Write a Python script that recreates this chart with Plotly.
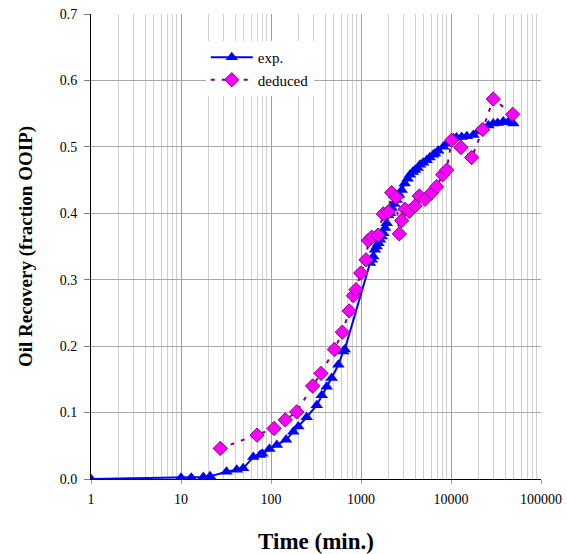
import plotly.graph_objects as go

# ---- data ----
exp_time = [1, 10, 13, 17.7, 21, 32, 41.6, 49, 63.6, 75.5, 80, 96, 116, 147, 177, 201, 249,
            322, 366, 416, 472, 560, 635, 660,
            1259, 1320, 1371, 1430, 1494, 1560, 1625, 1700, 1768, 1850, 1932, 2003, 2100,
            2193, 2350, 2494, 2650, 2834, 3060, 3300, 3500, 3750, 3981, 4250, 4525, 4900,
            5370, 5800, 6340, 6640, 7200, 8220, 9000, 10610, 11500, 13140, 15000, 17700,
            20000, 22870, 26000, 29500, 33000, 38100, 43000, 49200]
exp_rec = [0.0, 0.002, 0.002, 0.003, 0.004, 0.011, 0.014, 0.016, 0.033, 0.036, 0.038, 0.045,
           0.051, 0.059, 0.071, 0.079, 0.093, 0.111, 0.126, 0.139, 0.152, 0.172, 0.192, 0.195,
           0.325, 0.330, 0.335, 0.345, 0.350, 0.355, 0.360, 0.365, 0.370, 0.378, 0.385, 0.397,
           0.400, 0.408, 0.414, 0.420, 0.428, 0.435, 0.445, 0.452, 0.458, 0.462, 0.465, 0.468,
           0.473, 0.476, 0.480, 0.484, 0.488, 0.490, 0.494, 0.500, 0.505, 0.513, 0.514, 0.515,
           0.516, 0.518, 0.523, 0.528, 0.532, 0.535, 0.536, 0.538, 0.537, 0.535]

ded_time = [27.3, 70, 108, 144, 193, 290, 359, 506, 621, 741, 823, 880, 991, 1137, 1205, 1315,
            1542, 1770, 2010, 2193, 2450, 2666, 2832, 3085, 3443, 3980, 4449, 5140, 6100, 6930,
            8080, 8950, 10170, 12900, 16980, 22500, 29500, 48500]
ded_rec = [0.046, 0.066, 0.076, 0.089, 0.101, 0.140, 0.159, 0.195, 0.221, 0.253, 0.276, 0.285,
           0.310, 0.330, 0.359, 0.364, 0.367, 0.399, 0.402, 0.431, 0.424, 0.369, 0.389, 0.406,
           0.403, 0.411, 0.426, 0.421, 0.431, 0.440, 0.458, 0.465, 0.510, 0.499, 0.484, 0.526,
           0.572, 0.549]

x_tick_vals = [1, 10, 100, 1000, 10000, 100000]
x_tick_text = ["1", "10", "100", "1000", "10000", "100000"]
y_tick_vals = [0.0, 0.1, 0.2, 0.3, 0.4, 0.5, 0.6, 0.7]

SERIF = "Liberation Serif, Times New Roman, serif"

fig = go.Figure()
fig.add_trace(go.Scatter(
    x=exp_time, y=exp_rec, name="exp.", mode="lines+markers",
    line=dict(color="#0000FF", width=2),
    marker=dict(symbol="triangle-up", size=11, color="#0000FF"),
))
fig.add_trace(go.Scatter(
    x=ded_time, y=ded_rec, name="deduced", mode="lines+markers",
    line=dict(color="#800080", width=2, dash="4px,7px"),
    marker=dict(symbol="diamond", size=11, color="#FF00FF",
                line=dict(color="#800080", width=1)),
))

fig.update_layout(
    width=567, height=554,
    margin=dict(l=91, r=26, t=14, b=75, autoexpand=False),
    paper_bgcolor="white", plot_bgcolor="white",
    font=dict(family=SERIF, size=14, color="black"),
    showlegend=True,
    legend=dict(x=0.255, y=0.942, xanchor="left", yanchor="top",
                bgcolor="white", borderwidth=0, itemwidth=42,
                font=dict(family=SERIF, size=15), tracegroupgap=0),
)
fig.update_xaxes(
    type="log", range=[0, 5], automargin=False,
    tickvals=x_tick_vals, ticktext=x_tick_text,
    showgrid=True, gridcolor="#a0a0a0", gridwidth=1,
    minor=dict(showgrid=True, gridcolor="#d0d0d0", gridwidth=1, dtick="D1",
               ticks=""),
    showline=True, linecolor="black", linewidth=1, mirror=False,
    ticks="outside", ticklen=4, tickcolor="#a0a0a0", ticklabelstandoff=3,
    tickfont=dict(family=SERIF, size=14),
    title=dict(text="<b>Time (min.)</b>", font=dict(family=SERIF, size=23), standoff=28),
    zeroline=False,
)
fig.update_yaxes(
    range=[0, 0.7], tickvals=y_tick_vals, tickformat=".1f", automargin=False,
    showgrid=True, gridcolor="#a8a8a8", gridwidth=1,
    showline=True, linecolor="black", linewidth=1,
    ticks="outside", ticklen=6, tickcolor="#808080", ticklabelstandoff=4,
    tickfont=dict(family=SERIF, size=14),
    title=dict(text="<b>Oil Recovery (fraction OOIP)</b>", font=dict(family=SERIF, size=19),
               standoff=22),
    zeroline=False,
)

fig.write_html("out.html")
